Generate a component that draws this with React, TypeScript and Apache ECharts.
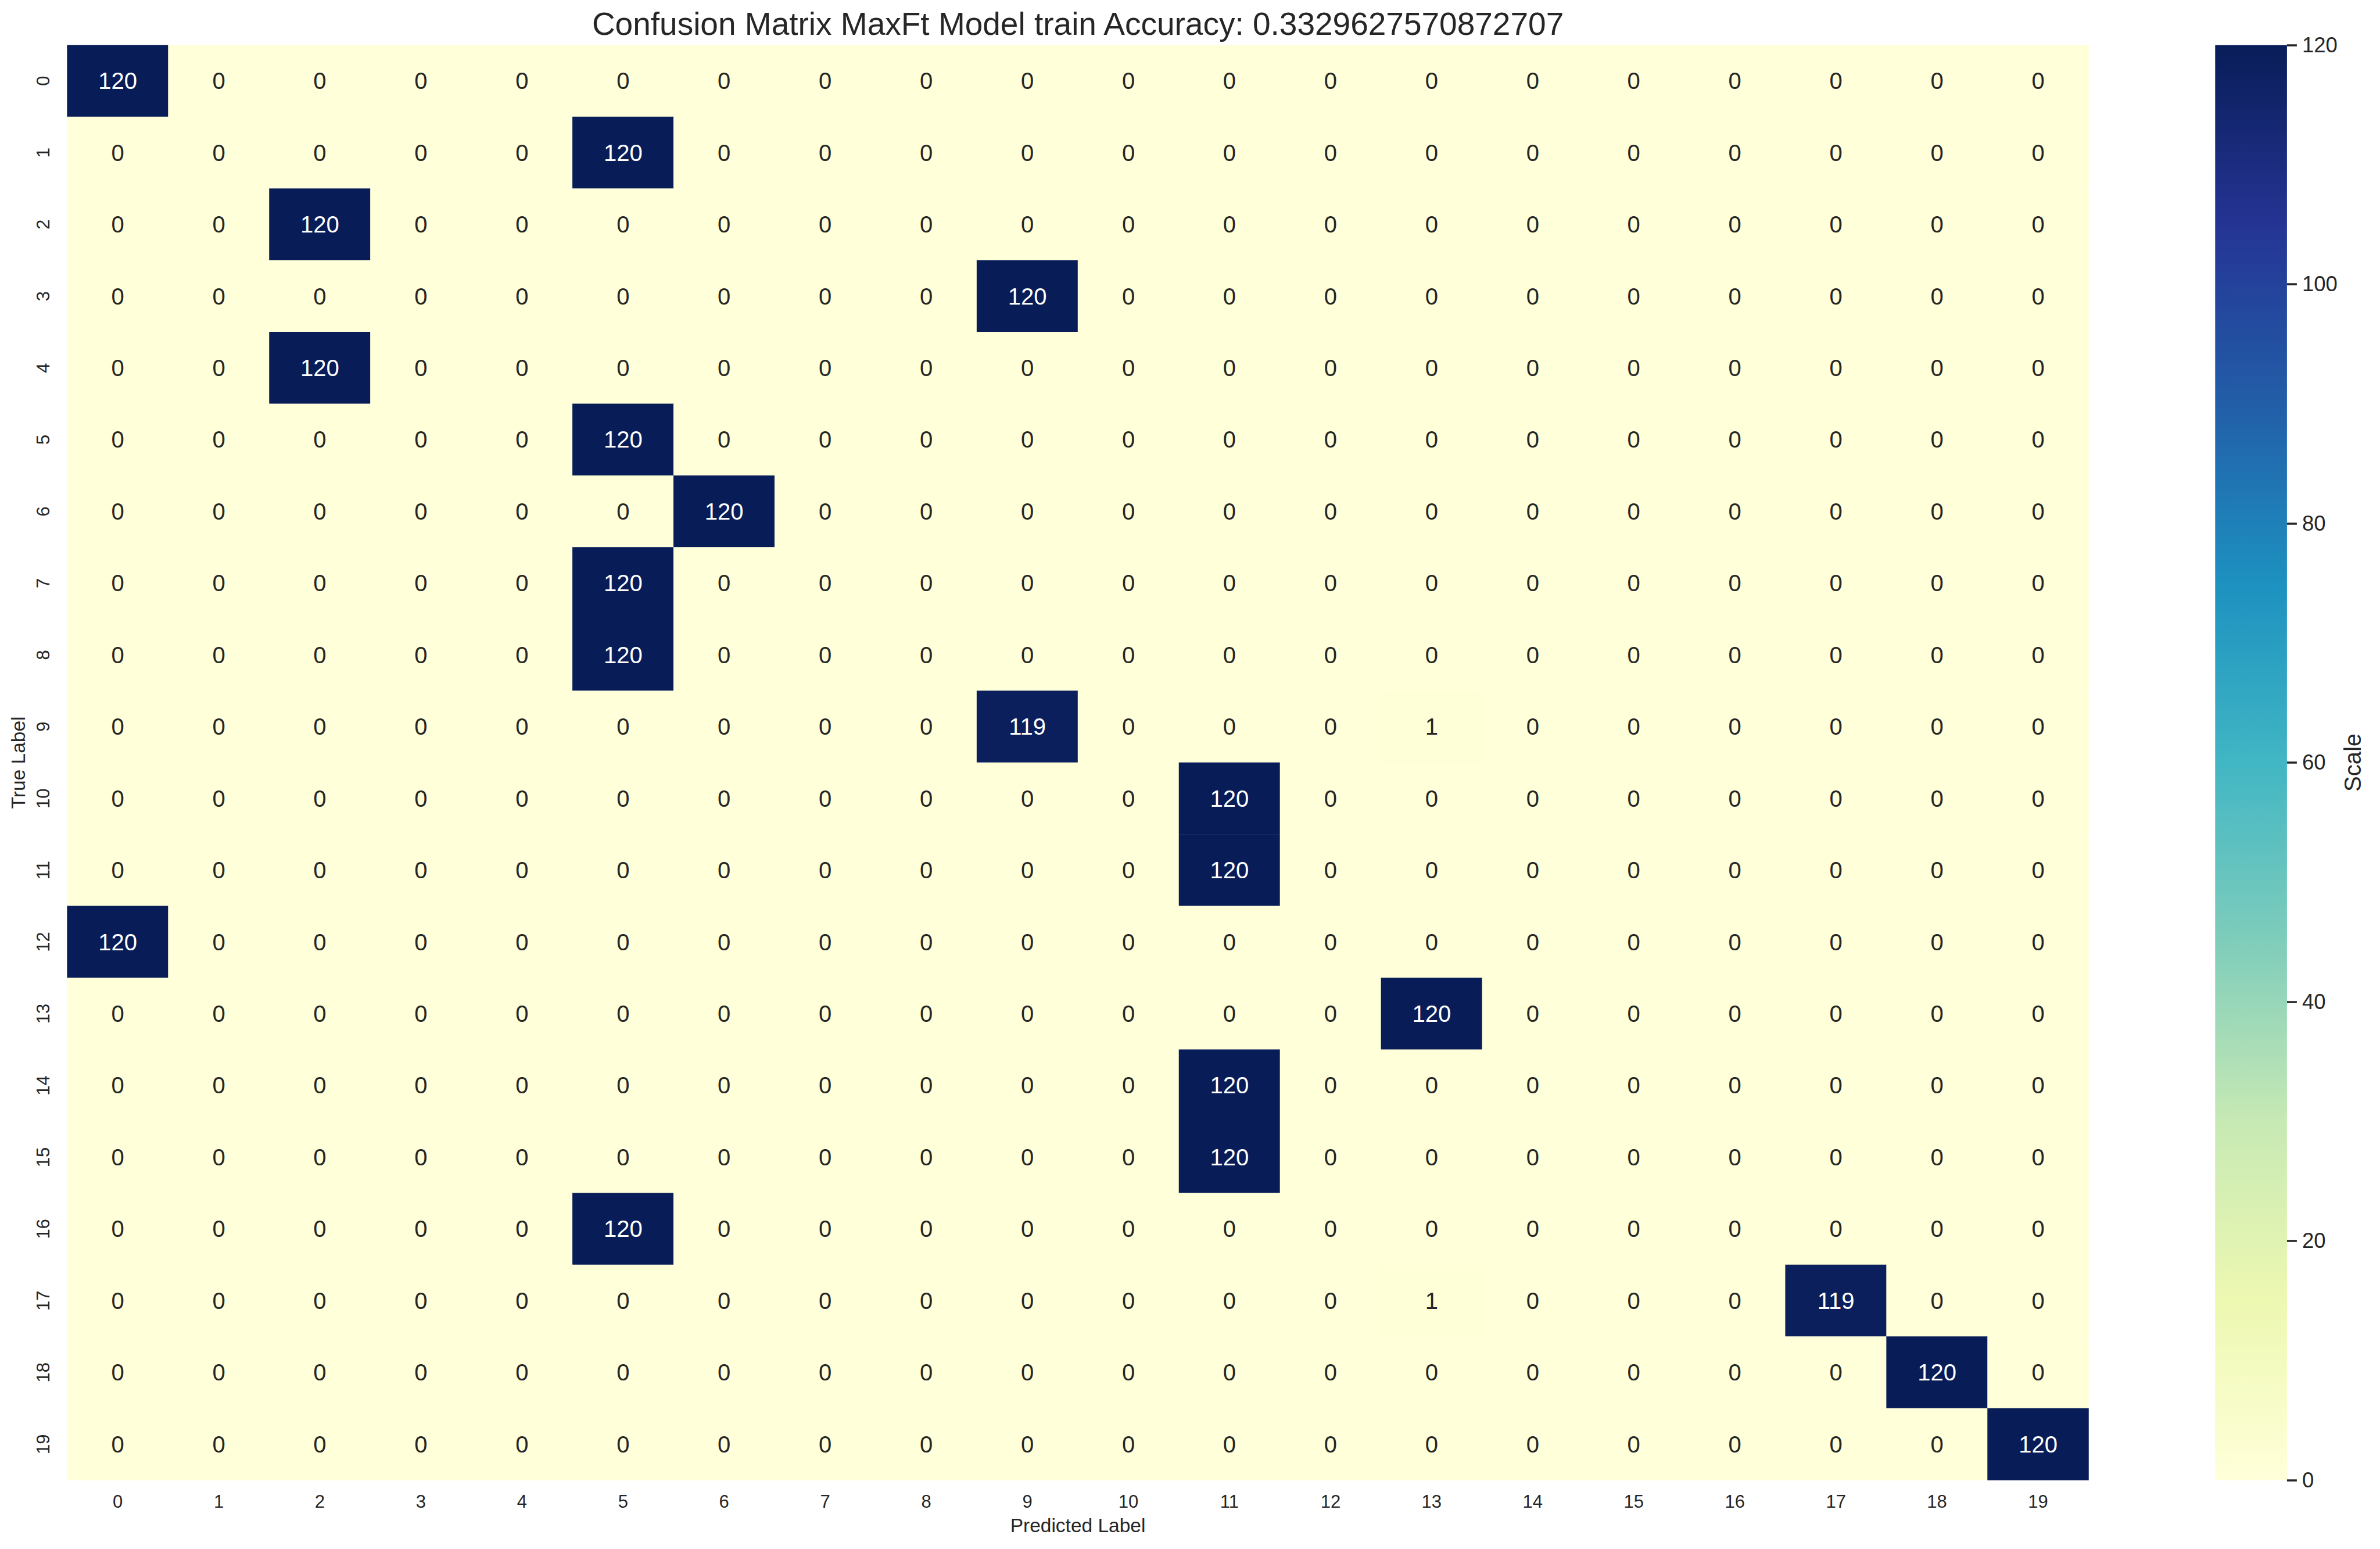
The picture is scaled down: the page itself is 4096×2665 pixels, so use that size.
import React, { useEffect, useRef } from "react";
import * as echarts from "echarts";

const TITLE = "Confusion Matrix MaxFt Model train Accuracy: 0.3329627570872707";
const X_NAME = "Predicted Label";
const Y_NAME = "True Label";
const CBAR_NAME = "Scale";

const predictedLabels = ["0","1","2","3","4","5","6","7","8","9","10","11","12","13","14","15","16","17","18","19"];
const trueLabels = ["0","1","2","3","4","5","6","7","8","9","10","11","12","13","14","15","16","17","18","19"];

// rows = true label, columns = predicted label
const row0 = [120,0,0,0,0,0,0,0,0,0,0,0,0,0,0,0,0,0,0,0];
const row1 = [0,0,0,0,0,120,0,0,0,0,0,0,0,0,0,0,0,0,0,0];
const row2 = [0,0,120,0,0,0,0,0,0,0,0,0,0,0,0,0,0,0,0,0];
const row3 = [0,0,0,0,0,0,0,0,0,120,0,0,0,0,0,0,0,0,0,0];
const row4 = [0,0,120,0,0,0,0,0,0,0,0,0,0,0,0,0,0,0,0,0];
const row5 = [0,0,0,0,0,120,0,0,0,0,0,0,0,0,0,0,0,0,0,0];
const row6 = [0,0,0,0,0,0,120,0,0,0,0,0,0,0,0,0,0,0,0,0];
const row7 = [0,0,0,0,0,120,0,0,0,0,0,0,0,0,0,0,0,0,0,0];
const row8 = [0,0,0,0,0,120,0,0,0,0,0,0,0,0,0,0,0,0,0,0];
const row9 = [0,0,0,0,0,0,0,0,0,119,0,0,0,1,0,0,0,0,0,0];
const row10 = [0,0,0,0,0,0,0,0,0,0,0,120,0,0,0,0,0,0,0,0];
const row11 = [0,0,0,0,0,0,0,0,0,0,0,120,0,0,0,0,0,0,0,0];
const row12 = [120,0,0,0,0,0,0,0,0,0,0,0,0,0,0,0,0,0,0,0];
const row13 = [0,0,0,0,0,0,0,0,0,0,0,0,0,120,0,0,0,0,0,0];
const row14 = [0,0,0,0,0,0,0,0,0,0,0,120,0,0,0,0,0,0,0,0];
const row15 = [0,0,0,0,0,0,0,0,0,0,0,120,0,0,0,0,0,0,0,0];
const row16 = [0,0,0,0,0,120,0,0,0,0,0,0,0,0,0,0,0,0,0,0];
const row17 = [0,0,0,0,0,0,0,0,0,0,0,0,0,1,0,0,0,119,0,0];
const row18 = [0,0,0,0,0,0,0,0,0,0,0,0,0,0,0,0,0,0,120,0];
const row19 = [0,0,0,0,0,0,0,0,0,0,0,0,0,0,0,0,0,0,0,120];
const matrix = [row0,row1,row2,row3,row4,row5,row6,row7,row8,row9,row10,row11,row12,row13,row14,row15,row16,row17,row18,row19];

const scaleMin = 0;
const scaleMax = 120;
const scaleInterval = 20;

// YlGnBu
const ylGnBu = ["#ffffd9","#edf8b1","#c7e9b4","#7fcdbb","#41b6c4","#1d91c0","#225ea8","#253494","#081d58"];

const FONT = "'Liberation Sans', Arial, Helvetica, sans-serif";
const TEXT = "#262626";

export default function App() {
  const ref = useRef<HTMLDivElement>(null);
  useEffect(() => {
    if (!ref.current) return;
    const chart = echarts.init(ref.current, null, { renderer: "svg" });

    const data: any[] = [];
    matrix.forEach((row, r) => {
      row.forEach((v, c) => {
        data.push({
          value: [c, r, v],
          label: { color: v > (scaleMax - scaleMin) / 2 ? "#ffffff" : TEXT },
        });
      });
    });

    const gridLeft = 115.6;
    const gridTop = 77.5;
    const gridW = 3478.9;
    const gridH = 2468.9;
    const cbLeft = 3812.3;
    const cbW = 123.6;

    const option: any = {
      animation: false,
      backgroundColor: "#ffffff",
      textStyle: { fontFamily: FONT },
      graphic: [
        {
          type: "text",
          x: gridLeft + gridW / 2,
          y: 41,
          style: {
            text: TITLE,
            fontSize: 55,
            fontFamily: FONT,
            fill: TEXT,
            align: "center",
            verticalAlign: "middle",
          },
        },
      ],
      grid: [
        { left: gridLeft, top: gridTop, width: gridW, height: gridH, containLabel: false },
        { left: cbLeft, top: gridTop, width: cbW, height: gridH, containLabel: false },
      ],
      xAxis: [
        {
          type: "category",
          gridIndex: 0,
          data: predictedLabels,
          axisLine: { show: false },
          axisTick: { show: false },
          splitLine: { show: false },
          axisLabel: { fontSize: 31, color: TEXT, margin: 22, fontFamily: FONT },
          name: X_NAME,
          nameLocation: "middle",
          nameGap: 61,
          nameTextStyle: { fontSize: 33.5, color: TEXT, fontFamily: FONT },
        },
        {
          type: "category",
          gridIndex: 1,
          data: ["cb"],
          show: false,
          boundaryGap: true,
        },
      ],
      yAxis: [
        {
          type: "category",
          gridIndex: 0,
          data: trueLabels,
          inverse: true,
          axisLine: { show: false },
          axisTick: { show: false },
          splitLine: { show: false },
          axisLabel: { fontSize: 31, color: TEXT, margin: 26, rotate: 90, fontFamily: FONT },
          name: Y_NAME,
          nameLocation: "middle",
          nameRotate: 90,
          nameGap: 67,
          nameTextStyle: { fontSize: 33.5, color: TEXT, fontFamily: FONT },
        },
        {
          type: "value",
          gridIndex: 1,
          position: "right",
          min: scaleMin,
          max: scaleMax,
          interval: scaleInterval,
          axisLine: { show: false },
          axisTick: { show: true, length: 17, lineStyle: { color: TEXT, width: 3.5 } },
          splitLine: { show: false },
          axisLabel: { fontSize: 36.5, color: TEXT, margin: 26, fontFamily: FONT },
          name: CBAR_NAME,
          nameLocation: "middle",
          nameRotate: 90,
          nameGap: 93,
          nameTextStyle: { fontSize: 40, color: TEXT, fontFamily: FONT },
        },
      ],
      visualMap: {
        type: "continuous",
        show: false,
        min: scaleMin,
        max: scaleMax,
        seriesIndex: 0,
        dimension: 2,
        inRange: { color: ylGnBu },
      },
      series: [
        {
          type: "heatmap",
          xAxisIndex: 0,
          yAxisIndex: 0,
          data,
          label: { show: true, fontSize: 40, fontFamily: FONT },
          itemStyle: { borderWidth: 0 },
          emphasis: { disabled: true },
        },
        {
          type: "bar",
          xAxisIndex: 1,
          yAxisIndex: 1,
          data: [scaleMax],
          barWidth: "100%",
          itemStyle: {
            color: new echarts.graphic.LinearGradient(
              0, 0, 0, 1,
              ylGnBu
                .slice()
                .reverse()
                .map((c, i) => ({ offset: i / (ylGnBu.length - 1), color: c }))
            ),
          },
          emphasis: { disabled: true },
        },
      ],
    };

    chart.setOption(option);
    return () => chart.dispose();
  }, []);

  return (
    <div
      ref={ref}
      style={{ position: "fixed", left: 0, top: 0, width: 4096, height: 2665, background: "#fff" }}
    />
  );
}
